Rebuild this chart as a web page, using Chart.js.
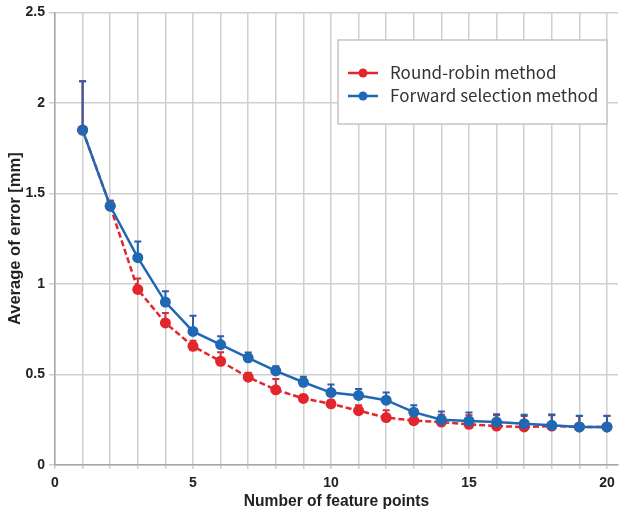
<!DOCTYPE html>
<html>
<head>
<meta charset="utf-8">
<script src="https://cdn.jsdelivr.net/npm/chart.js@4.4.1/dist/chart.umd.min.js"></script>
<style>
  html, body { margin: 0; padding: 0; background: #fff; }
  #wrap { width: 631px; height: 515px; }
</style>
</head>
<body>
<div id="wrap"><canvas id="chart"></canvas></div>
<script>
// data
const featurePoints = [1, 2, 3, 4, 5, 6, 7, 8, 9, 10, 11, 12, 13, 14, 15, 16, 17, 18, 19, 20];
const roundRobin = [1.85, 1.43, 0.97, 0.785, 0.656, 0.573, 0.485, 0.415, 0.368, 0.338, 0.30, 0.262, 0.245, 0.237, 0.225, 0.215, 0.21, 0.215, 0.21, 0.21];
const roundRobinErr = [0.27, 0.03, 0.06, 0.055, 0.03, 0.05, 0.025, 0.06, 0.02, 0.02, 0.03, 0.04, 0.03, 0.04, 0.05, 0.06, 0.06, 0.06, 0.06, 0.06];
const forward = [1.85, 1.43, 1.145, 0.90, 0.738, 0.665, 0.592, 0.52, 0.457, 0.40, 0.384, 0.358, 0.292, 0.25, 0.243, 0.237, 0.228, 0.219, 0.21, 0.21];
const forwardErr = [0.27, 0.03, 0.09, 0.06, 0.087, 0.046, 0.03, 0.025, 0.03, 0.045, 0.036, 0.042, 0.038, 0.045, 0.047, 0.043, 0.05, 0.06, 0.062, 0.062];
const xTickLabels = [0, 5, 10, 15, 20];
const yTickLabels = [0, 0.5, 1, 1.5, 2, 2.5];
const seriesNames = ["Round-robin method", "Forward selection method"];

const RED = "#e3262b";
const BLUE = "#1f68b3";

/* upper error bars, drawn under the points (red first, blue on top) */
const errorBarPlugin = {
  id: "errorBars",
  beforeDatasetsDraw(chart) {
    const { ctx, scales } = chart;
    ctx.save();
    chart.data.datasets.slice().reverse().forEach((ds) => {
      if (!ds.errors) return;
      ctx.strokeStyle = ds.errColor;
      ctx.lineWidth = 2;
      ds.data.forEach((p, j) => {
        const x = scales.x.getPixelForValue(p.x);
        const y0 = scales.y.getPixelForValue(p.y);
        const y1 = scales.y.getPixelForValue(p.y + ds.errors[j]);
        ctx.beginPath();
        ctx.moveTo(x, y0);
        ctx.lineTo(x, y1);
        ctx.moveTo(x - 3.5, y1);
        ctx.lineTo(x + 3.5, y1);
        ctx.stroke();
      });
    });
    ctx.restore();
  },
};

/* boxed legend inside the plot */
const boxLegendPlugin = {
  id: "boxLegend",
  afterDraw(chart) {
    const { ctx } = chart;
    const bx = 338, by = 40, bw = 269, bh = 84;
    ctx.save();
    ctx.fillStyle = "#fff";
    ctx.fillRect(bx, by, bw, bh);
    ctx.strokeStyle = "#c4c4c4";
    ctx.lineWidth = 1.5;
    ctx.strokeRect(bx, by, bw, bh);

    const items = [chart.data.datasets[1], chart.data.datasets[0]];
    items.forEach((ds, i) => {
      const y = 73 + i * 23;
      ctx.strokeStyle = ds.borderColor;
      ctx.lineWidth = 2.5;
      ctx.beginPath();
      ctx.moveTo(348, y);
      ctx.lineTo(378, y);
      ctx.stroke();
      ctx.fillStyle = ds.borderColor;
      ctx.beginPath();
      ctx.arc(363, y, 4.5, 0, Math.PI * 2);
      ctx.fill();
      ctx.fillStyle = "#333";
      ctx.font = "17px 'Noto Sans CJK JP'";
      ctx.textBaseline = "middle";
      ctx.textAlign = "left";
      ctx.fillText(ds.label, 390, y);
    });
    ctx.restore();
  },
};

const toPoints = (vals) => vals.map((v, i) => ({ x: featurePoints[i], y: v }));

new Chart(document.getElementById("chart"), {
  type: "line",
  data: {
    datasets: [
      {
        label: seriesNames[1],
        data: toPoints(forward),
        errors: forwardErr,
        errColor: "#2a5ea6",
        borderColor: BLUE,
        backgroundColor: BLUE,
        borderWidth: 2.5,
        pointRadius: 5.5,
        pointBorderWidth: 0,
        tension: 0,
        order: 0,
      },
      {
        label: seriesNames[0],
        data: toPoints(roundRobin),
        errors: roundRobinErr,
        errColor: "#d0303a",
        borderColor: RED,
        backgroundColor: RED,
        borderWidth: 2.5,
        borderDash: [6, 3],
        pointRadius: 5.5,
        pointBorderWidth: 0,
        tension: 0,
        order: 1,
      },
    ],
  },
  options: {
    responsive: true,
    maintainAspectRatio: false,
    animation: false,
    layout: { padding: { top: 12, right: 13, bottom: 0, left: 0 } },
    plugins: {
      legend: { display: false },
      tooltip: { enabled: false },
    },
    scales: {
      x: {
        type: "linear",
        min: 0,
        max: 20.4,
        afterBuildTicks(s) {
          s.ticks = [0].concat(featurePoints).map((v) => ({ value: v }));
        },
        afterFit(s) { s.height = 50; },
        ticks: {
          autoSkip: false,
          maxRotation: 0,
          color: "#222",
          font: { family: "'Liberation Sans', Arial", size: 14, weight: "bold" },
          padding: 6,
          callback: (v) => (xTickLabels.includes(v) ? String(v) : ""),
        },
        grid: { color: "#cfcfcf", lineWidth: 1.5, tickLength: 4 },
        border: { color: "#a8a8a8", width: 1.5 },
        title: {
          display: true,
          text: "Number of feature points",
          color: "#222",
          font: { family: "'Liberation Sans', Arial", size: 15.6, weight: "bold" },
          padding: { top: 0, bottom: 4 },
        },
      },
      y: {
        min: 0,
        max: 2.5,
        afterBuildTicks(s) {
          s.ticks = yTickLabels.map((v) => ({ value: v }));
        },
        afterFit(s) { s.width = 55; },
        ticks: {
          color: "#222",
          font: { family: "'Liberation Sans', Arial", size: 14, weight: "bold" },
          padding: 4,
          callback: (v) => String(v),
        },
        grid: { color: "#cfcfcf", lineWidth: 1.5, tickLength: 6 },
        border: { color: "#a8a8a8", width: 1.5 },
        title: {
          display: true,
          text: "Average of error [mm]",
          color: "#222",
          font: { family: "'Liberation Sans', Arial", size: 16.5, weight: "bold" },
          padding: { top: 6, bottom: 0 },
        },
      },
    },
  },
  plugins: [errorBarPlugin, boxLegendPlugin],
});
</script>
</body>
</html>
